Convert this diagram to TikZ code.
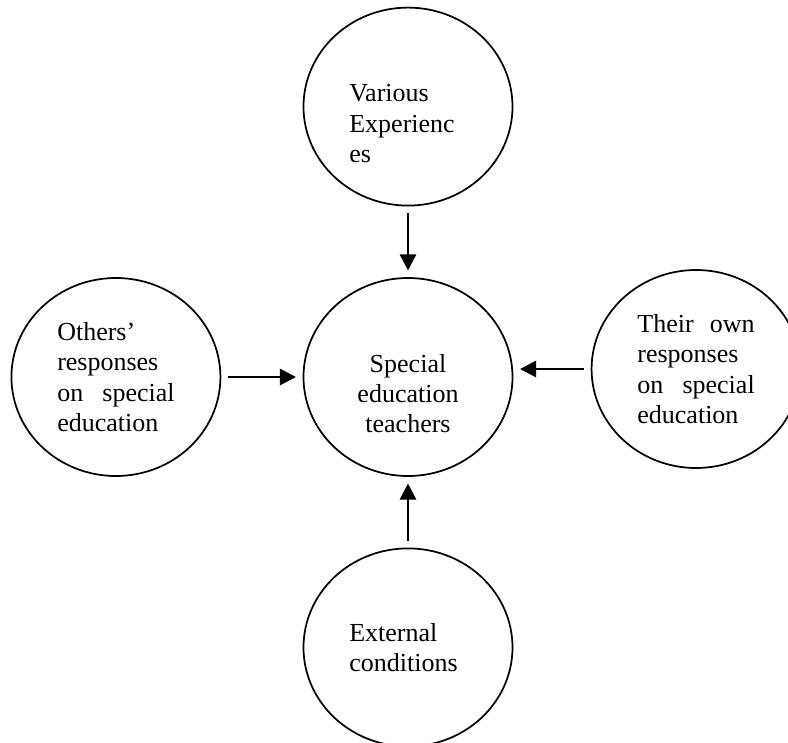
\documentclass[tikz,border=0pt]{standalone}
\usepackage{fontspec}
\setmainfont{Liberation Serif}
\usetikzlibrary{shapes.geometric, arrows.meta, positioning}

\begin{document}
\begin{tikzpicture}[
    node distance=55pt,
    bubble/.style={ellipse, draw, line width=1.3pt, minimum width=156.75pt, minimum height=148.5pt, inner sep=0pt, text width=88pt, align=left, font=\fontsize{19.5}{22.7}\selectfont},
    arrow/.style={-{Triangle[length=12pt,width=12pt]}, line width=1.9pt, shorten <=5pt, shorten >=5pt}
]
    \useasboundingbox (-306pt,-273.75pt) rectangle (285pt,282.75pt);
    \clip (-306pt,-273.75pt) rectangle (285pt,282.75pt);
    % Circles
    \node[bubble, align=center] (teachers) {\strut\\ Special\\ education\\ teachers};
    \node[bubble, above=53pt of teachers] (experiences) {\strut\\ Various\\ Experienc\\ es};
    \node[bubble, left=61pt of teachers] (others) {Others’\\ responses\\ on \hfill special\\ education};
    \node[bubble, right=58pt of teachers, yshift=6pt] (own) {Their \hfill own\\ responses\\ on \hfill special\\ education};
    \node[bubble, below=53pt of teachers] (external) {External\\ conditions};

    % Arrows
    \draw[arrow] (experiences) -- (teachers);
    \draw[arrow] (others) -- (teachers);
    \draw[arrow] (own.west) -- (own.west -| teachers.east);
    \draw[arrow] (external) -- (teachers);
\end{tikzpicture}
\end{document}
